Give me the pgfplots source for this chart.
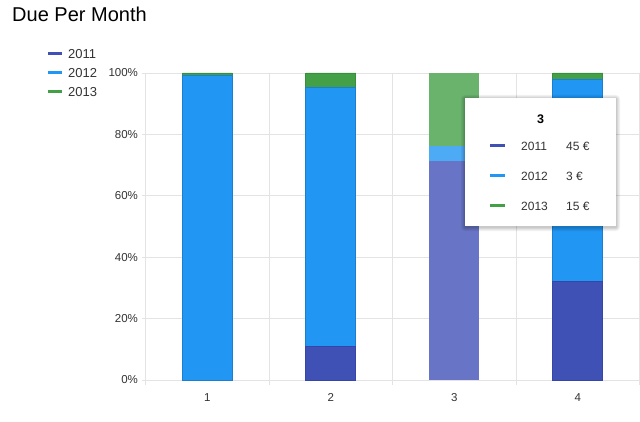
\documentclass[border=0pt]{standalone}
\usepackage{fontspec}
\setmainfont{Liberation Sans}
\usepackage{pgfplots}
\pgfplotsset{compat=1.18}
\definecolor{cA}{HTML}{3F51B5}\definecolor{cAe}{HTML}{3545A8}
\definecolor{cB}{HTML}{2196F3}\definecolor{cBe}{HTML}{1A7FD0}
\definecolor{cC}{HTML}{43A047}\definecolor{cCe}{HTML}{388E3C}
\definecolor{hA}{HTML}{6874C5}
\definecolor{hB}{HTML}{4DABF5}
\definecolor{hC}{HTML}{6AB36D}
\definecolor{gridc}{HTML}{E3E3E3}
\definecolor{txt}{HTML}{333333}
\pgfplotsset{
  base/.style={
    at={(145.5pt,41pt)}, anchor=south west,
    scale only axis, width=494pt, height=307pt,
    xmin=0.5, xmax=4.5, ymin=0, ymax=100,
    ybar stacked, bar width=50pt,
  }
}
\begin{document}
\begin{tikzpicture}
\path[use as bounding box] (0pt,0pt) rectangle (640pt,421pt);
\begin{axis}[base,
  axis line style={draw=none},
  xtick={1,2,3,4},
  minor xtick={0.5,1.5,2.5,3.5,4.5},
  xtick pos=bottom, ytick pos=left,
  xminorgrids=true, ymajorgrids=true,
  ytick={0,20,40,60,80,100},
  grid style={draw=gridc, line width=0.8pt},
  tick align=outside,
  major tick length=4pt, minor tick length=5pt,
  every major x tick/.style={draw=none},
  every minor x tick/.style={draw=gridc, line width=0.8pt},
  every major y tick/.style={draw=gridc, line width=0.8pt},
  /pgf/number format/assume math mode=true,
  yticklabel={\pgfmathprintnumber{\tick}\%},
  yticklabel style={font=\fontsize{11.5}{13}\selectfont, text=txt},
  xticklabel style={font=\fontsize{11.5}{13}\selectfont, text=txt, yshift=-6pt},
]
\addplot[fill=cA, draw=cAe, line width=0.8pt] coordinates {(1,0) (2,11.0) (4,32.2)};
\addplot[fill=cB, draw=cBe, line width=0.8pt] coordinates {(1,99.2) (2,84.3) (4,65.7)};
\addplot[fill=cC, draw=cCe, line width=0.8pt] coordinates {(1,0.8) (2,4.7) (4,2.1)};
\end{axis}
\begin{axis}[base, hide axis]
\addplot[fill=hA, draw=none] coordinates {(3,71.43)};
\addplot[fill=hB, draw=none] coordinates {(3,4.76)};
\addplot[fill=hC, draw=none] coordinates {(3,23.81)};
\end{axis}
% title
\node[anchor=base west, inner sep=0pt, text=black, font=\fontsize{20}{24}\selectfont] at (12pt,399pt) {Due Per Month};
% legend
\foreach \yy/\cc/\ll in {367/cA/2011, 348/cB/2012, 329/cC/2013}{
  \draw[\cc, line width=3pt] (48pt,\yy pt) -- (62pt,\yy pt);
  \node[anchor=west, inner sep=0pt, text=txt, font=\fontsize{13}{15}\selectfont] at (68pt,\yy pt) {\ll};
}
% tooltip
\foreach \o/\d in {0.05/4, 0.05/3, 0.06/2, 0.07/1}{
  \fill[black, opacity=\o, rounded corners=\d pt] (465pt-\d pt,195pt-\d pt-1pt) rectangle (616pt+\d pt,323pt+\d pt-1pt);
}
\fill[white] (465pt,195pt) rectangle (616pt,323pt);
\node[font=\bfseries\fontsize{12.5}{14}\selectfont, text=black] at (540.5pt,302pt) {3};
\foreach \yy/\cc/\ll/\vv in {275/cA/2011/45 €, 245/cB/2012/3 €, 215/cC/2013/15 €}{
  \draw[\cc, line width=3pt] (490pt,\yy pt) -- (505pt,\yy pt);
  \node[anchor=west, inner sep=0pt, text=txt, font=\fontsize{12}{14}\selectfont] at (521pt,\yy pt) {\ll};
  \node[anchor=west, inner sep=0pt, text=txt, font=\fontsize{12}{14}\selectfont] at (566pt,\yy pt) {\vv};
}
\end{tikzpicture}
\end{document}
